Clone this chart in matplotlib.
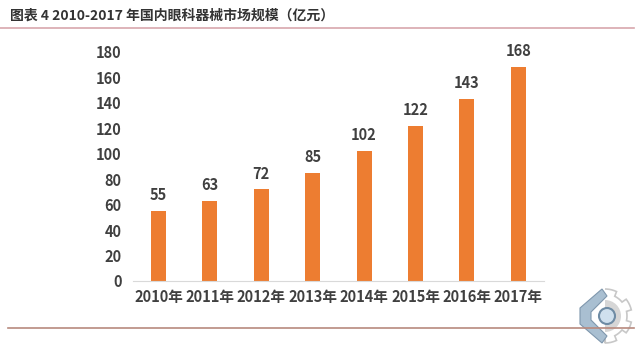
import numpy as np
import matplotlib.pyplot as plt
from matplotlib.lines import Line2D
from matplotlib.patches import Circle, Polygon, Wedge

plt.rcParams['font.family'] = ['Noto Sans CJK SC', 'DejaVu Sans']

years = ['2010年', '2011年', '2012年', '2013年', '2014年', '2015年', '2016年', '2017年']
market = [55, 63, 72, 85, 102, 122, 143, 168]
yticks = [0, 20, 40, 60, 80, 100, 120, 140, 160, 180]
title = '图表 4 2010-2017 年国内眼科器械市场规模（亿元）'

fig = plt.figure(figsize=(6.4, 3.53), dpi=100)
ax = fig.add_axes([0.2075, 0.204, 0.6425, 0.6495])

x = range(len(years))
ax.bar(x, market, width=0.29, color='#ED7D31')
for xi, v in zip(x, market):
    ax.text(xi, v + 6, str(v), ha='center', va='bottom', fontsize=10.5,
            fontweight='bold', color='#404040')

ax.set_xlim(-0.5, len(years) - 0.5)
ax.set_ylim(0, 180)
ax.set_yticks(yticks)
ax.set_xticks(list(x))
ax.set_xticklabels(years)
ax.tick_params(length=0, labelsize=10.5, colors='#404040', pad=8)
ax.tick_params(axis='x', pad=6)
for lab in ax.get_xticklabels() + ax.get_yticklabels():
    lab.set_fontweight('bold')
for s in ['top', 'right', 'left']:
    ax.spines[s].set_visible(False)
ax.spines['bottom'].set_color('#d9d9d9')

fig.text(0.016, 0.955, title, fontsize=10, fontweight='bold', color='#333333',
         va='center', ha='left')
fig.add_artist(Line2D([0.0, 0.99], [1 - 28 / 353, 1 - 28 / 353], color='#d8a7ad', lw=1.2))
fig.add_artist(Line2D([0.012, 0.99], [1 - 328 / 353, 1 - 328 / 353], color='#b88a7e', lw=1.2))

# logo in the lower right corner (pixel coordinates)
lg = fig.add_axes([570 / 640, 5 / 353, 70 / 640, 70 / 353])
lg.set_xlim(570, 640)
lg.set_ylim(348, 278)
lg.axis('off')
cx, cy = 605, 316
ang = np.linspace(-np.pi / 2, np.pi / 2, 200)
r = np.where((np.floor((ang + np.pi / 2) / (np.pi / 7)) % 2) == 0, 27, 22)
gear = np.column_stack([cx + r * np.cos(ang), cy + r * np.sin(ang)])
gear = np.vstack([[cx, cy + 27], gear[::-1], [cx, cy - 27]])
lg.add_patch(Polygon(gear, closed=False, fill=False, ec='#c8c8c8', lw=1.2))
lg.add_patch(Wedge((cx, cy), 16, -90, 90, fc='#d6d6d6', ec='none'))
lg.add_patch(Polygon([[cx - 3, cy - 27], [cx - 25, cy - 8], [cx - 25, cy + 8], [cx - 3, cy + 27],
                      [cx + 2, cy + 20], [cx - 14, cy + 4], [cx - 14, cy - 4], [cx + 2, cy - 20]],
                     fc='#a9bfd1', ec='#7f97ad', lw=0.8))
lg.add_patch(Circle((cx + 2, cy), 8, fc='#cfe0ee', ec='#6f8ca5', lw=1.5))

fig.savefig('out.png', dpi=100)
